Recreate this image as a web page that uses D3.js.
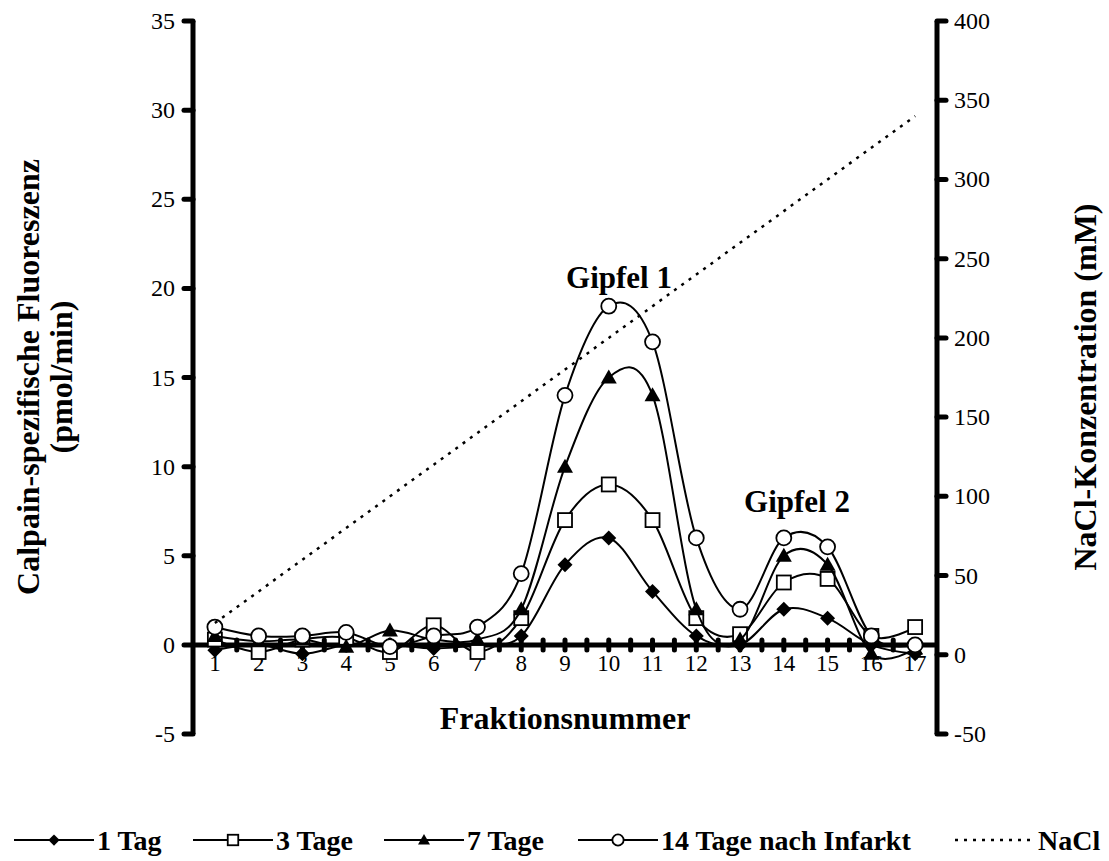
<!DOCTYPE html>
<html>
<head>
<meta charset="utf-8">
<script src="https://cdn.jsdelivr.net/npm/d3@7"></script>
<style>
  body { margin: 0; background: #fff; }
  text { font-family: "Liberation Serif", "Times New Roman", serif; }
</style>
</head>
<body>
<div id="vis"></div>
<script>
const width = 1109;
const height = 861;

// data
const fractions = [1, 2, 3, 4, 5, 6, 7, 8, 9, 10, 11, 12, 13, 14, 15, 16, 17];
const tag1  = [-0.3, 0, -0.5, 0, 0, -0.2, 0, 0.5, 4.5, 6, 3, 0.5, 0, 2, 1.5, 0, -0.5];
const tage3 = [0.3, -0.4, 0.3, 0.4, -0.4, 1.1, -0.4, 1.5, 7, 9, 7, 1.5, 0.6, 3.5, 3.7, 0.5, 1];
const tage7 = [0.5, 0.2, 0.3, -0.1, 0.8, 0.3, 0.3, 2, 10, 15, 14, 2, 0.3, 5, 4.5, -0.5, -0.2];
const tage14 = [1, 0.5, 0.5, 0.7, -0.1, 0.5, 1, 4, 14, 19, 17, 6, 2, 6, 5.5, 0.5, 0];
const nacl = [20, 40, 60, 80, 100, 120, 140, 160, 180, 200, 220, 240, 260, 280, 300, 320, 340];
const leftTicks = [-5, 0, 5, 10, 15, 20, 25, 30, 35];
const rightTicks = [-50, 0, 50, 100, 150, 200, 250, 300, 350, 400];

const series = [
  { name: "1 Tag", values: tag1, marker: "diamond" },
  { name: "3 Tage", values: tage3, marker: "square" },
  { name: "7 Tage", values: tage7, marker: "triangle" },
  { name: "14 Tage nach Infarkt", values: tage14, marker: "circle" }
];

const svg = d3.select("#vis")
  .append("svg")
  .attr("width", width)
  .attr("height", height);

const x = d3.scaleBand()
  .domain(fractions)
  .range([193, 937]);

const y = d3.scaleLinear()
  .domain([-5, 35])
  .range([734, 21]);

const y2 = d3.scaleLinear()
  .domain([-50, 400])
  .range([734, 21]);

const cx = d => x(d) + x.bandwidth() / 2;

// x axis ticks (major + minor, crossing)
const halfSteps = d3.range(0, fractions.length * 2 + 1).map(i => 193 + i * x.bandwidth() / 2);
svg.append("g")
  .selectAll("line")
  .data(halfSteps.slice(1, -1))
  .enter()
  .append("line")
  .attr("x1", d => d)
  .attr("x2", d => d)
  .attr("y1", y(0) - 5)
  .attr("y2", y(0) + 5)
  .attr("stroke", "#000")
  .attr("stroke-width", 5)
  .attr("stroke-linecap", "round");

svg.append("line")
  .attr("x1", 193).attr("x2", 937)
  .attr("y1", y(0)).attr("y2", y(0))
  .attr("stroke", "#000")
  .attr("stroke-width", 5);

svg.selectAll(".xlab")
  .data(fractions)
  .enter()
  .append("text")
  .attr("x", d => cx(d))
  .attr("y", 671)
  .attr("text-anchor", "middle")
  .attr("font-size", "23px")
  .text(d => d);

// left axis
svg.append("line")
  .attr("x1", 193).attr("x2", 193)
  .attr("y1", y(35)).attr("y2", y(-5))
  .attr("stroke", "#000").attr("stroke-width", 5);

svg.selectAll(".ltick")
  .data(leftTicks)
  .enter()
  .append("line")
  .attr("x1", 184).attr("x2", 193)
  .attr("y1", d => y(d)).attr("y2", d => y(d))
  .attr("stroke", "#000").attr("stroke-width", 5)
  .attr("stroke-linecap", "round");

svg.selectAll(".llab")
  .data(leftTicks)
  .enter()
  .append("text")
  .attr("x", 175)
  .attr("y", d => y(d) + 8)
  .attr("text-anchor", "end")
  .attr("font-size", "24px")
  .text(d => d);

// right axis
svg.append("line")
  .attr("x1", 937).attr("x2", 937)
  .attr("y1", y2(400)).attr("y2", y2(-50))
  .attr("stroke", "#000").attr("stroke-width", 5);

svg.selectAll(".rtick")
  .data(rightTicks)
  .enter()
  .append("line")
  .attr("x1", 937).attr("x2", 946)
  .attr("y1", d => y2(d)).attr("y2", d => y2(d))
  .attr("stroke", "#000").attr("stroke-width", 5)
  .attr("stroke-linecap", "round");

svg.selectAll(".rlab")
  .data(rightTicks)
  .enter()
  .append("text")
  .attr("x", 954)
  .attr("y", d => y2(d) + 8)
  .attr("text-anchor", "start")
  .attr("font-size", "24px")
  .text(d => d);

// axis titles
svg.append("text")
  .attr("transform", "translate(39,377) rotate(-90)")
  .attr("text-anchor", "middle")
  .attr("font-size", "32px")
  .attr("font-weight", "bold")
  .text("Calpain-spezifische Fluoreszenz");

svg.append("text")
  .attr("transform", "translate(72,377) rotate(-90)")
  .attr("text-anchor", "middle")
  .attr("font-size", "32px")
  .attr("font-weight", "bold")
  .text("(pmol/min)");

svg.append("text")
  .attr("transform", "translate(1096,387) rotate(-90)")
  .attr("text-anchor", "middle")
  .attr("font-size", "32px")
  .attr("font-weight", "bold")
  .text("NaCl-Konzentration (mM)");

svg.append("text")
  .attr("x", 565)
  .attr("y", 729)
  .attr("text-anchor", "middle")
  .attr("font-size", "32px")
  .attr("font-weight", "bold")
  .text("Fraktionsnummer");

// markers
function drawMarker(g, type, px, py, s = 1) {
  if (type === "diamond") {
    const r = 7.5 * s;
    g.append("path")
      .attr("d", `M${px},${py - r}L${px + r},${py}L${px},${py + r}L${px - r},${py}Z`)
      .attr("fill", "#000");
  } else if (type === "square") {
    const r = 7 * s;
    g.append("rect")
      .attr("x", px - r).attr("y", py - r)
      .attr("width", 2 * r).attr("height", 2 * r)
      .attr("fill", "#fff").attr("stroke", "#000").attr("stroke-width", 1.8);
  } else if (type === "triangle") {
    const r = 8 * s;
    g.append("path")
      .attr("d", `M${px},${py - r}L${px + r},${py + r * 0.75}L${px - r},${py + r * 0.75}Z`)
      .attr("fill", "#000");
  } else if (type === "circle") {
    g.append("circle")
      .attr("cx", px).attr("cy", py).attr("r", 7.5 * s)
      .attr("fill", "#fff").attr("stroke", "#000").attr("stroke-width", 1.8);
  }
}

const line = d3.line()
  .x((d, i) => cx(fractions[i]))
  .y(d => y(d))
  .curve(d3.curveCardinal.tension(0));

series.forEach(s => {
  const g = svg.append("g");
  g.append("path")
    .datum(s.values)
    .attr("fill", "none")
    .attr("stroke", "#000")
    .attr("stroke-width", 2)
    .attr("d", line);
  s.values.forEach((v, i) => drawMarker(g, s.marker, cx(fractions[i]), y(v)));
});

// NaCl gradient
svg.append("path")
  .datum(nacl)
  .attr("fill", "none")
  .attr("stroke", "#000")
  .attr("stroke-width", 2.5)
  .attr("stroke-dasharray", "3,6")
  .attr("d", d3.line()
    .x((d, i) => cx(fractions[i]))
    .y(d => y2(d)));

// peak labels
svg.append("text")
  .attr("x", 619).attr("y", 288)
  .attr("text-anchor", "middle")
  .attr("font-size", "31px")
  .attr("font-weight", "bold")
  .text("Gipfel 1");

svg.append("text")
  .attr("x", 797).attr("y", 512)
  .attr("text-anchor", "middle")
  .attr("font-size", "31px")
  .attr("font-weight", "bold")
  .text("Gipfel 2");

// legend
const legendItems = [
  { name: "1 Tag", marker: "diamond", x0: 14 },
  { name: "3 Tage", marker: "square", x0: 193 },
  { name: "7 Tage", marker: "triangle", x0: 384 },
  { name: "14 Tage nach Infarkt", marker: "circle", x0: 578 },
  { name: "NaCl", marker: null, x0: 955 }
];
const ly = 840;
legendItems.forEach(item => {
  const g = svg.append("g");
  g.append("line")
    .attr("x1", item.x0).attr("x2", item.x0 + 80)
    .attr("y1", ly).attr("y2", ly)
    .attr("stroke", "#000")
    .attr("stroke-width", item.marker ? 2 : 2.5)
    .attr("stroke-dasharray", item.marker ? null : "3,6");
  if (item.marker) drawMarker(g, item.marker, item.x0 + 40, ly, 0.75);
  g.append("text")
    .attr("x", item.x0 + 83)
    .attr("y", ly + 10)
    .attr("font-size", "28px")
    .attr("font-weight", "bold")
    .text(item.name);
});
</script>
</body>
</html>
